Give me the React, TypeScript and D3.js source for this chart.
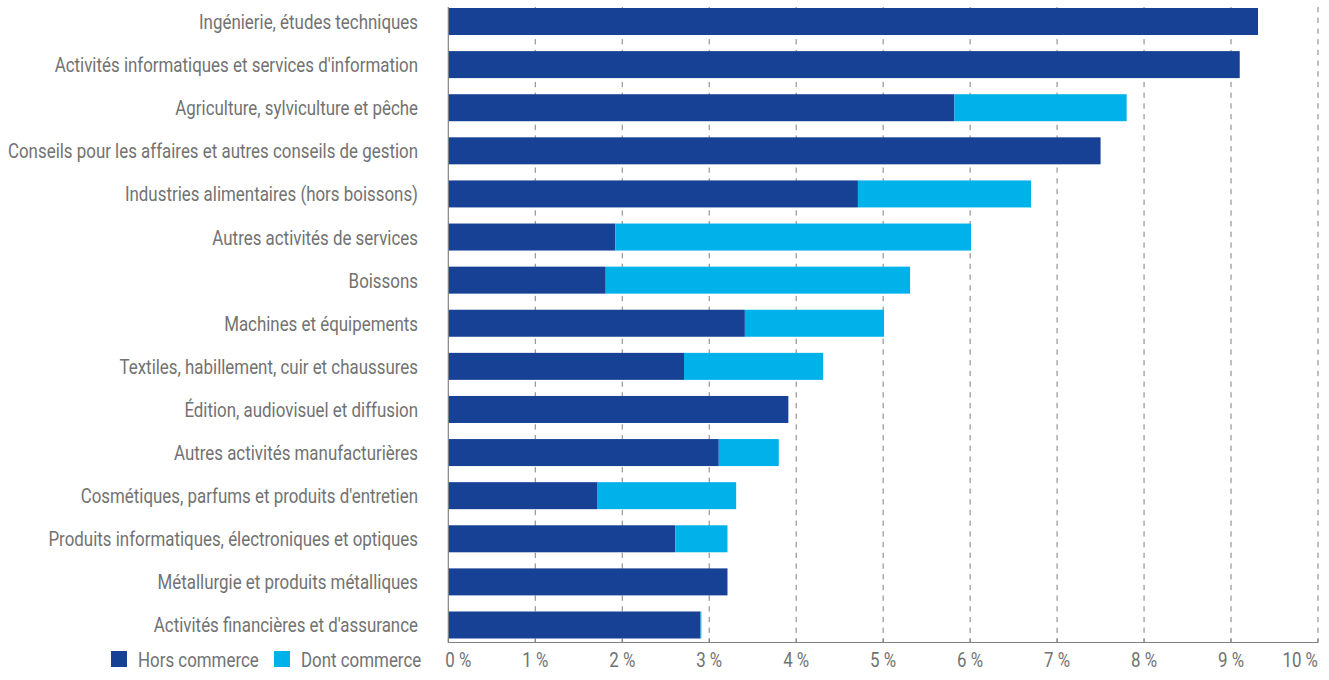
import React, { useLayoutEffect, useRef, useState } from "react";
import * as d3 from "d3";

const categories = [
  "Ingénierie, études techniques",
  "Activités informatiques et services d'information",
  "Agriculture, sylviculture et pêche",
  "Conseils pour les affaires et autres conseils de gestion",
  "Industries alimentaires (hors boissons)",
  "Autres activités de services ",
  "Boissons",
  "Machines et équipements",
  "Textiles, habillement, cuir et chaussures",
  "Édition, audiovisuel et diffusion",
  "Autres activités manufacturières",
  "Cosmétiques, parfums et produits d'entretien",
  "Produits informatiques, électroniques et optiques",
  "Métallurgie et produits métalliques",
  "Activités financières et d'assurance",
];

const horsCommerce = [9.31, 9.1, 5.82, 7.5, 4.71, 1.92, 1.81, 3.41, 2.71, 3.91, 3.11, 1.71, 2.61, 3.21, 2.9];
const dontCommerce = [0, 0, 1.98, 0, 1.99, 4.09, 3.5, 1.6, 1.6, 0, 0.69, 1.6, 0.6, 0, 0.01];

const seriesNames = ["Hors commerce", "Dont commerce"];
const xTicks = [0, 1, 2, 3, 4, 5, 6, 7, 8, 9, 10];

const DARK = "#174195";
const LIGHT = "#00B1EA";
const TEXT = "#727272";
const FONT = "Roboto, sans-serif";
const FS = 21;

export default function App() {
  const x = d3.scaleLinear().domain([0, 10]).range([448.3, 1318]);
  const y = d3
    .scaleBand<string>()
    .domain(categories)
    .range([0, 15 * 43.1])
    .paddingInner(16.1 / 43.1)
    .paddingOuter(8 / 43.1);
  const axisY = 642.5;

  const measureRef = useRef<SVGTextElement>(null);
  const [sx, setSx] = useState(0.72);
  useLayoutEffect(() => {
    if (measureRef.current) {
      const w = measureRef.current.getComputedTextLength();
      if (w > 0) setSx(219 / w);
    }
  }, []);

  const rows = categories.map((c, i) => ({
    c,
    h: horsCommerce[i],
    d: dontCommerce[i],
  }));

  return (
    <svg width={1329} height={680} style={{ position: "absolute", left: 0, top: 0 }}>
      {/* gridlines */}
      {xTicks.slice(1).map((t) => (
        <line
          key={"g" + t}
          x1={x(t)}
          x2={x(t)}
          y1={7}
          y2={axisY}
          stroke="#7f7f7f"
          strokeWidth={1}
          strokeDasharray="5.3,5.4"
        />
      ))}
      {/* bars */}
      {rows.map((r) => (
        <g key={r.c}>
          <rect
            x={x(0)}
            y={y(r.c)}
            width={x(r.h) - x(0)}
            height={y.bandwidth()}
            fill={DARK}
          />
          {r.d > 0 && (
            <rect
              x={x(r.h)}
              y={y(r.c)}
              width={x(r.h + r.d) - x(r.h)}
              height={y.bandwidth()}
              fill={LIGHT}
            />
          )}
        </g>
      ))}
      {/* axes */}
      <line x1={x(0)} x2={x(0)} y1={7} y2={axisY} stroke="#808080" strokeWidth={1.2} />
      <line x1={x(0)} x2={x(10)} y1={axisY} y2={axisY} stroke="#808080" strokeWidth={1.2} />
      {xTicks.map((t) => (
        <line key={"t" + t} x1={x(t)} x2={x(t)} y1={axisY - 4} y2={axisY} stroke="#808080" strokeWidth={1} />
      ))}
      {/* category labels */}
      {rows.map((r, i) => (
        <text
          key={"l" + r.c}
          ref={i === 0 ? measureRef : undefined}
          transform={`translate(418,${(y(r.c) as number) + y.bandwidth() / 2 + 7.5}) scale(${sx},1)`}
          textAnchor="end"
          fontFamily={FONT}
          fontSize={FS}
          fill={TEXT}
        >
          {r.c}
        </text>
      ))}
      {/* tick labels */}
      {xTicks.map((t, i) => {
        let tx = x(t);
        let anchor = "middle";
        if (i === 0) {
          tx = x(t) - 3;
          anchor = "start";
        } else if (i === xTicks.length - 1) {
          tx = x(t);
          anchor = "end";
        }
        return (
          <text
            key={"tl" + t}
            transform={`translate(${tx},666.5) scale(${sx},1)`}
            textAnchor={anchor}
            fontFamily={FONT}
            fontSize={FS}
            fill={TEXT}
          >
            {`${t} %`}
          </text>
        );
      })}
      {/* legend */}
      {seriesNames.map((s, i) => {
        const lx = i === 0 ? 111 : 274;
        return (
          <g key={s}>
            <rect x={lx} y={651} width={16} height={16} fill={i === 0 ? DARK : LIGHT} />
            <text
              transform={`translate(${lx + 27},666.5) scale(${sx},1)`}
              fontFamily={FONT}
              fontSize={FS}
              fill={TEXT}
            >
              {s}
            </text>
          </g>
        );
      })}
    </svg>
  );
}
